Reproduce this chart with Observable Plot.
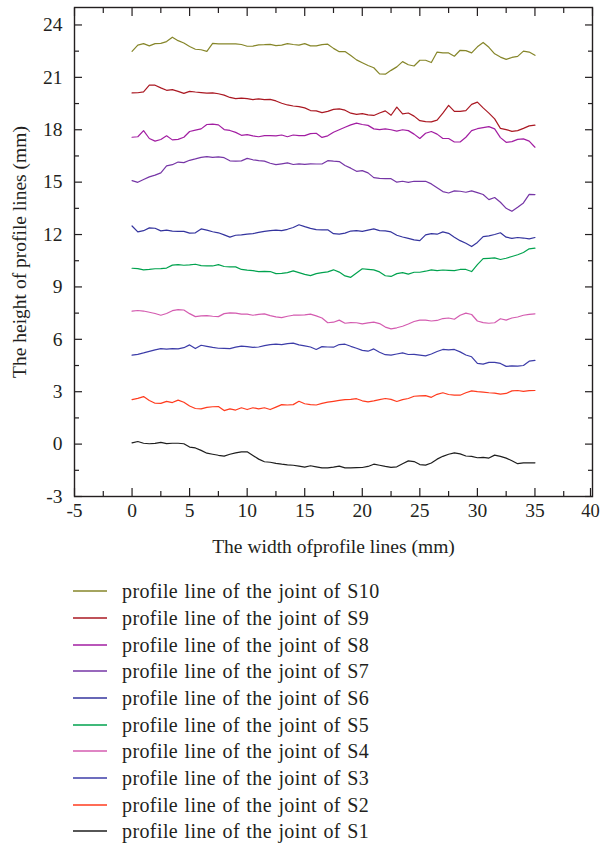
<!DOCTYPE html>
<html>
<head>
<meta charset="utf-8">
<script src="https://cdn.jsdelivr.net/npm/d3@7"></script>
<script src="https://cdn.jsdelivr.net/npm/@observablehq/plot@0.6"></script>
<style>
  body { margin: 0; background: #fff; font-family: "Liberation Serif", serif; color: #231f20; }
  #chart svg { display: block; }
  #legend { padding-top: 13px; }
  .row { display: flex; align-items: center; height: 26.67px; }
  .row svg { margin-left: 73px; display: block; }
  .row span { margin-left: 15px; font-size: 20px; letter-spacing: 0.4px; word-spacing: 1px; line-height: 1; }
</style>
</head>
<body>
<div id="chart"></div>
<div id="legend"></div>
<script>
// Sample positions along the profile (mm)
const widths = [0,0.5,1,1.5,2,2.5,3,3.5,4,4.5,5,5.5,6,6.5,7,7.5,8,8.5,9,9.5,10,10.5,11,11.5,12,12.5,13,13.5,14,14.5,15,15.5,16,16.5,17,17.5,18,18.5,19,19.5,20,20.5,21,21.5,22,22.5,23,23.5,24,24.5,25,25.5,26,26.5,27,27.5,28,28.5,29,29.5,30,30.5,31,31.5,32,32.5,33,33.5,34,34.5,35];

const s10 = [22.49,22.85,22.93,22.80,22.93,22.95,23.05,23.30,23.10,22.97,22.77,22.61,22.58,22.49,22.95,22.92,22.92,22.92,22.92,22.88,22.78,22.79,22.86,22.87,22.89,22.82,22.85,22.93,22.88,22.85,22.93,22.80,22.80,22.87,22.90,22.66,22.47,22.48,22.25,22.00,21.84,21.68,21.55,21.20,21.18,21.40,21.60,21.90,21.72,21.65,21.98,21.98,21.85,22.45,22.40,22.40,22.21,22.55,22.53,22.40,22.75,23.00,22.72,22.35,22.16,22.03,22.14,22.20,22.50,22.45,22.26];
const s9 = [20.11,20.12,20.17,20.55,20.55,20.40,20.26,20.30,20.20,20.08,20.20,20.16,20.13,20.10,20.11,20.06,19.98,19.85,19.78,19.81,19.78,19.73,19.77,19.72,19.74,19.65,19.52,19.42,19.36,19.32,19.25,19.10,19.08,18.98,19.05,19.17,19.20,19.12,18.95,18.88,18.92,18.85,18.82,18.96,19.08,18.83,19.30,18.91,18.96,18.78,18.52,18.47,18.45,18.55,18.95,19.40,19.05,19.05,19.10,19.45,19.58,19.25,18.95,18.62,18.08,18.01,17.91,17.95,18.08,18.22,18.26];
const s8 = [17.57,17.60,17.95,17.50,17.35,17.44,17.65,17.42,17.45,17.57,17.90,17.98,18.05,18.30,18.32,18.28,18.01,17.96,17.85,17.68,17.72,17.65,17.60,17.66,17.66,17.65,17.70,17.60,17.70,17.66,17.66,17.78,17.80,17.56,17.65,17.86,18.00,18.14,18.28,18.38,18.30,18.25,18.05,18.01,18.05,18.00,17.92,18.00,17.95,17.75,17.50,17.80,17.90,17.75,17.50,17.50,17.30,17.30,17.57,17.95,18.06,18.12,18.18,18.05,17.55,17.28,17.32,17.45,17.48,17.35,17.00];
const s7 = [15.09,14.99,15.15,15.30,15.40,15.53,15.93,16.00,16.15,16.12,16.25,16.33,16.42,16.46,16.42,16.45,16.40,16.22,16.20,16.22,16.36,16.28,16.23,16.20,16.08,16.00,16.05,16.10,16.01,16.05,16.02,16.05,16.04,16.04,16.23,16.20,16.18,15.95,15.80,15.62,15.66,15.53,15.26,15.22,15.20,15.20,15.00,15.05,14.99,15.05,15.04,15.05,14.90,14.68,14.46,14.38,14.50,14.48,14.42,14.50,14.40,14.29,14.00,14.12,13.85,13.50,13.33,13.56,13.81,14.30,14.29];
const s6 = [12.49,12.15,12.22,12.38,12.36,12.21,12.25,12.20,12.18,12.18,12.08,12.10,12.32,12.25,12.16,12.10,11.98,11.85,11.96,11.98,12.02,12.05,12.12,12.18,12.22,12.25,12.22,12.30,12.40,12.56,12.45,12.35,12.28,12.27,12.27,12.05,12.02,12.08,12.20,12.22,12.18,12.25,12.32,12.22,12.21,12.15,11.96,11.86,11.78,11.69,11.65,11.98,12.05,12.02,12.15,12.07,11.85,11.65,11.50,11.31,11.55,11.88,11.92,12.00,12.10,11.85,11.78,11.83,11.80,11.75,11.83];
const s5 = [10.07,10.05,9.98,10.00,10.04,10.05,10.08,10.25,10.28,10.24,10.26,10.30,10.22,10.20,10.20,10.28,10.17,10.15,10.15,10.00,9.96,9.93,9.88,9.89,9.88,9.76,9.78,9.82,9.92,9.82,9.72,9.65,9.76,9.82,9.86,9.98,9.85,9.63,9.55,9.80,10.04,10.01,9.98,9.86,9.64,9.60,9.76,9.82,9.73,9.84,9.84,9.90,9.98,9.93,9.97,9.95,9.93,10.00,10.00,9.88,10.28,10.62,10.64,10.66,10.57,10.64,10.74,10.84,10.97,11.18,11.22];
const s4 = [7.61,7.65,7.62,7.55,7.48,7.38,7.48,7.64,7.70,7.68,7.47,7.30,7.34,7.36,7.32,7.30,7.47,7.51,7.50,7.44,7.44,7.38,7.43,7.46,7.36,7.29,7.24,7.32,7.38,7.39,7.40,7.44,7.34,7.22,6.95,6.98,7.10,6.92,6.96,6.95,6.88,6.94,6.98,6.90,6.70,6.60,6.66,6.75,6.88,7.02,7.10,7.10,7.05,7.08,7.19,7.22,7.15,7.38,7.50,7.42,7.05,6.96,6.92,6.95,7.18,7.10,7.22,7.28,7.38,7.43,7.46];
const s3 = [5.09,5.14,5.22,5.31,5.40,5.47,5.44,5.47,5.45,5.52,5.68,5.47,5.66,5.60,5.54,5.49,5.48,5.47,5.55,5.61,5.58,5.54,5.56,5.64,5.70,5.72,5.70,5.75,5.78,5.68,5.62,5.56,5.42,5.58,5.56,5.55,5.70,5.72,5.60,5.49,5.37,5.32,5.45,5.26,5.12,5.10,5.16,5.22,5.13,5.14,5.10,5.05,5.16,5.30,5.42,5.40,5.42,5.28,5.10,5.00,4.62,4.58,4.68,4.68,4.62,4.45,4.48,4.46,4.50,4.75,4.79];
const s2 = [2.55,2.62,2.72,2.50,2.34,2.33,2.45,2.38,2.52,2.40,2.18,2.04,2.02,2.10,2.14,2.15,1.92,2.02,1.95,2.08,1.98,2.08,2.02,2.08,1.98,2.12,2.26,2.24,2.26,2.45,2.31,2.26,2.24,2.33,2.40,2.45,2.50,2.55,2.56,2.60,2.48,2.42,2.48,2.55,2.61,2.56,2.44,2.55,2.61,2.74,2.76,2.78,2.68,2.85,2.94,2.84,2.80,2.80,2.94,3.05,3.00,2.98,2.94,2.92,2.86,2.90,3.05,3.07,3.02,3.06,3.07];
const s1 = [0.07,0.15,0.05,0.02,0.04,0.10,0.03,0.05,0.05,0.02,-0.17,-0.22,-0.36,-0.52,-0.58,-0.64,-0.69,-0.58,-0.50,-0.44,-0.44,-0.65,-0.86,-1.01,-1.04,-1.10,-1.15,-1.19,-1.21,-1.26,-1.32,-1.24,-1.30,-1.36,-1.36,-1.32,-1.26,-1.36,-1.36,-1.35,-1.34,-1.28,-1.15,-1.21,-1.28,-1.33,-1.30,-1.12,-0.96,-1.00,-1.17,-1.20,-1.08,-0.86,-0.70,-0.58,-0.50,-0.56,-0.68,-0.70,-0.78,-0.76,-0.80,-0.63,-0.70,-0.80,-0.95,-1.12,-1.07,-1.07,-1.07];

const seriesNames = ["S10","S9","S8","S7","S6","S5","S4","S3","S2","S1"];
const seriesValues = [s10, s9, s8, s7, s6, s5, s4, s3, s2, s1];
const seriesColors = ["#86862a","#aa1822","#a21ea2","#7636a6","#34349e","#00a24e","#d45cb0","#3c3ca8","#ff3b1e","#1e1e1e"];
const legendLabels = seriesNames.map(s => "profile line of the joint of " + s);

const xMajor = [-5,0,5,10,15,20,25,30,35,40];
const xMinor = [-2.5,2.5,7.5,12.5,17.5,22.5,27.5,32.5,37.5];
const yMajor = [-3,0,3,6,9,12,15,18,21,24];
const yMinor = [-1.5,1.5,4.5,7.5,10.5,13.5,16.5,19.5,22.5];
const xLast = xMajor[xMajor.length - 1];

const data = [];
seriesNames.forEach((name, i) => {
  seriesValues[i].forEach((v, j) => data.push({series: name, x: widths[j], y: v}));
});

const ink = "#231f20";
const plot = Plot.plot({
  width: 600,
  height: 565,
  marginLeft: 74,
  marginRight: 8,
  marginTop: 7,
  marginBottom: 69,
  style: {fontFamily: "'Liberation Serif', serif", fontSize: "18.5px", color: ink, background: "#fff"},
  x: {domain: [-5, 40]},
  y: {domain: [-3, 25]},
  color: {domain: seriesNames, range: seriesColors},
  marks: [
    Plot.axisX({ticks: xMajor.filter(d => d !== xLast), tickSize: -8, tickPadding: 15, tickFormat: d => String(d), label: "The width ofprofile lines (mm)", labelAnchor: "center", labelOffset: 56, labelArrow: "none", strokeWidth: 1.2, fontSize: 19.5}),
    Plot.axisX({ticks: [xLast], tickSize: -8, tickPadding: 15, tickFormat: d => String(d), label: null, strokeWidth: 1.2, dx: -2}),
    Plot.axisX({ticks: xMinor, tickSize: -5, tickFormat: () => "", label: null, strokeWidth: 1.2}),
    Plot.axisX({anchor: "top", ticks: xMajor, tickSize: -8, tickFormat: () => "", label: null, strokeWidth: 1.2}),
    Plot.axisX({anchor: "top", ticks: xMinor, tickSize: -5, tickFormat: () => "", label: null, strokeWidth: 1.2}),
    Plot.axisY({ticks: yMajor, tickSize: -8, tickPadding: 20, tickFormat: d => String(d), label: "The height of profile lines (mm)", labelAnchor: "center", labelOffset: 62, labelArrow: "none", strokeWidth: 1.2, fontSize: 19.5}),
    Plot.axisY({ticks: yMinor, tickSize: -5, tickFormat: () => "", label: null, strokeWidth: 1.2}),
    Plot.axisY({anchor: "right", ticks: yMajor, tickSize: -8, tickFormat: () => "", label: null, strokeWidth: 1.2}),
    Plot.axisY({anchor: "right", ticks: yMinor, tickSize: -5, tickFormat: () => "", label: null, strokeWidth: 1.2}),
    Plot.frame({stroke: ink, strokeWidth: 1.4}),
    Plot.line(data, {x: "x", y: "y", z: "series", stroke: "series", strokeWidth: 1.2})
  ]
});
document.getElementById("chart").append(plot);

const legend = document.getElementById("legend");
seriesNames.forEach((name, i) => {
  const row = document.createElement("div");
  row.className = "row";
  row.innerHTML = `<svg width="34" height="4"><line x1="0" x2="34" y1="2" y2="2" stroke="${seriesColors[i]}" stroke-width="1.6"/></svg><span>${legendLabels[i]}</span>`;
  legend.append(row);
});
</script>
</body>
</html>
